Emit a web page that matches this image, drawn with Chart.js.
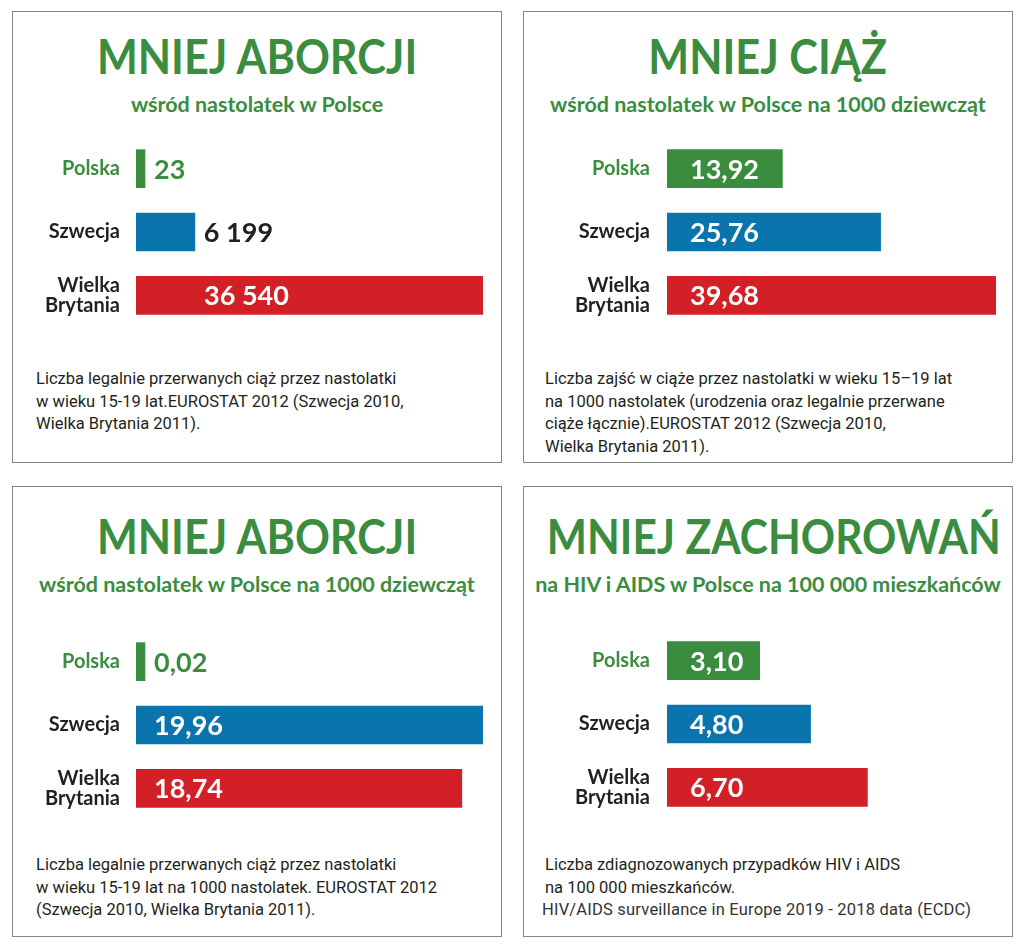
<!DOCTYPE html>
<html>
<head>
<meta charset="utf-8">
<script src="https://cdn.jsdelivr.net/npm/chart.js@4"></script>
<style>
    body { margin: 0; width: 1024px; height: 948px; position: relative; overflow: hidden; background: #fff; font-family: Lato, sans-serif; }
    .panel { position: absolute; border: 1px solid #858585; box-sizing: border-box; }
    .title { position: absolute; text-align: center; color: #3a8c3f; font-weight: 700; font-size: 47px; line-height: 47px; white-space: nowrap; }
    .title span { display: inline-block; transform: scaleX(0.92); }
    .sub { position: absolute; text-align: center; color: #3a8c3f; font-weight: 700; font-size: 21.5px; line-height: 21.5px; white-space: nowrap; }
    .note { position: absolute; font-family: Roboto, sans-serif; font-size: 16.5px; line-height: 22.7px; color: #231f20; white-space: nowrap; }
    canvas { position: absolute; }
</style>
</head>
<body>

<div class="panel" style="left:12px; top:11px; width:490px; height:452px"></div>
<div class="panel" style="left:523px; top:11px; width:490px; height:452px"></div>
<div class="panel" style="left:12px; top:486px; width:490px; height:451px"></div>
<div class="panel" style="left:523px; top:486px; width:490px; height:451px"></div>

<div class="title" style="left:12px; width:490px; top:33px"><span>MNIEJ ABORCJI</span></div>
<div class="sub" style="left:12px; width:490px; top:94px">wśród nastolatek w Polsce</div>
<div class="title" style="left:523px; width:490px; top:33px"><span>MNIEJ CIĄŻ</span></div>
<div class="sub" style="left:523px; width:490px; top:94px">wśród nastolatek w Polsce na 1000 dziewcząt</div>
<div class="title" style="left:12px; width:490px; top:513px"><span>MNIEJ ABORCJI</span></div>
<div class="sub" style="left:12px; width:490px; top:574px">wśród nastolatek w Polsce na 1000 dziewcząt</div>
<div class="title" style="left:523px; width:490px; top:513px"><span style="transform:scaleX(0.905)">MNIEJ ZACHOROWAŃ</span></div>
<div class="sub" style="left:523px; width:490px; top:574px">na HIV i AIDS w Polsce na 100 000 mieszkańców</div>

<canvas id="chartAbortions" width="475" height="190" style="left:20px; top:137px"></canvas>
<canvas id="chartPregnancies" width="475" height="190" style="left:531px; top:137px"></canvas>
<canvas id="chartAbortionsRate" width="475" height="190" style="left:20px; top:630px"></canvas>
<canvas id="chartHiv" width="475" height="190" style="left:531px; top:629px"></canvas>

<div class="note" style="left:36px; top:368px">Liczba legalnie przerwanych ciąż przez nastolatki<br>w wieku 15-19 lat.EUROSTAT 2012 (Szwecja 2010,<br>Wielka Brytania 2011).</div>
<div class="note" style="left:545px; top:368px">Liczba zajść w ciąże przez nastolatki w wieku 15–19 lat<br>na 1000 nastolatek (urodzenia oraz legalnie przerwane<br>ciąże łącznie).EUROSTAT 2012 (Szwecja 2010,<br>Wielka Brytania 2011).</div>
<div class="note" style="left:36px; top:854px">Liczba legalnie przerwanych ciąż przez nastolatki<br>w wieku 15-19 lat na 1000 nastolatek. EUROSTAT 2012<br>(Szwecja 2010, Wielka Brytania 2011).</div>
<div class="note" style="left:545px; top:854px">Liczba zdiagnozowanych przypadków HIV i AIDS<br>na 100 000 mieszkańców.<br><span style="margin-left:-3px; color:#333; letter-spacing:0.2px">HIV/AIDS surveillance in Europe 2019 - 2018 data (ECDC)</span></div>

<script>
// data
const countries = ["Polska", "Szwecja", ["Wielka", "Brytania"]];
const abortionsTotal = [23, 6199, 36540];
const pregnanciesPer1000 = [13.92, 25.76, 39.68];
const abortionsPer1000 = [0.02, 19.96, 18.74];
const hivPer100k = [3.10, 4.80, 6.70];

const GREEN = "#3a8c3f";
const BLUE = "#0a74ad";
const RED = "#d31f26";
const DARK = "#231f20";
const barColours = [GREEN, BLUE, RED];
const labelColours = [GREEN, DARK, DARK];

// polish style numbers: "36 540", "13,92"
function formatPl(value, decimals) {
    const parts = value.toFixed(decimals).split(".");
    parts[0] = parts[0].replace(/\B(?=(\d{3})+(?!\d))/g, " ");
    return parts.join(",");
}

// value next to / inside each bar
const valueLabels = {
    id: "valueLabels",
    afterDatasetsDraw(chart, args, opts) {
        const ctx = chart.ctx;
        const meta = chart.getDatasetMeta(0);
        const values = chart.data.datasets[0].data;
        ctx.save();
        ctx.font = "bold 27px Lato";
        ctx.textAlign = "left";
        ctx.textBaseline = "alphabetic";
        meta.data.forEach((bar, i) => {
            const text = formatPl(values[i], opts.decimals);
            const w = ctx.measureText(text).width;
            const inside = bar.x - bar.base >= opts.inside + w;
            ctx.fillStyle = inside ? "#fff" : labelColours[i];
            const x = inside ? bar.base + opts.inside : bar.x + 9;
            ctx.fillText(text, x, bar.y + 10);
        });
        ctx.restore();
    }
};

function makeChart(canvasId, values, max, decimals, inside, axisWidth, tickPadding, padRight) {
    return new Chart(document.getElementById(canvasId), {
        type: "bar",
        data: {
            labels: countries,
            datasets: [{
                data: values,
                backgroundColor: barColours,
                barThickness: 38,
                minBarLength: 9
            }]
        },
        options: {
            indexAxis: "y",
            responsive: false,
            animation: false,
            devicePixelRatio: 1,
            layout: { autoPadding: false, padding: { left: 0, right: padRight, top: 0, bottom: 0 } },
            plugins: {
                legend: { display: false },
                tooltip: { enabled: false },
                valueLabels: { decimals: decimals, inside: inside }
            },
            scales: {
                x: { display: false, min: 0, max: max },
                y: {
                    grid: { display: false, drawTicks: false },
                    border: { display: false },
                    ticks: {
                        padding: tickPadding,
                        font: { family: "Lato", size: 20, weight: "bold", lineHeight: 1 },
                        color: (c) => labelColours[c.index]
                    },
                    afterFit: (scale) => {
                        // fixed label column, bars use the full height
                        scale.width = axisWidth;
                        scale.paddingTop = 0;
                        scale.paddingBottom = 0;
                    }
                }
            }
        },
        plugins: [valueLabels]
    });
}

makeChart("chartAbortions", abortionsTotal, 36540, 0, 68, 116, 16, 12);
makeChart("chartPregnancies", pregnanciesPer1000, 39.68, 2, 23, 136, 17, 10);
makeChart("chartAbortionsRate", abortionsPer1000, 19.96, 2, 18, 116, 16, 12);
makeChart("chartHiv", hivPer100k, 11, 2, 23, 136, 17, 10);
</script>
</body>
</html>
